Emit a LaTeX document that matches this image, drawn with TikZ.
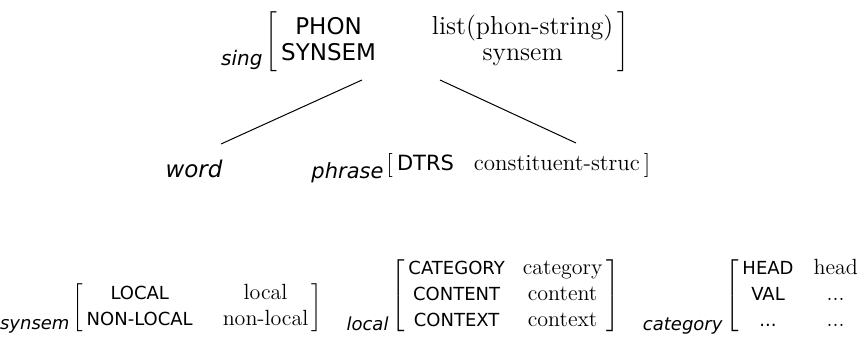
\documentclass[tikz,border=0pt]{standalone}
\usepackage{fontspec}
\newfontfamily\featfont{DejaVu Sans}
\usetikzlibrary{positioning,calc}

\newcommand{\avmsizes}[2]{\def\ftsz{#1}\def\vlsz{#2}\fontsize{#2}{13}\selectfont}
\newcommand{\ft}[1]{\mbox{\fontsize{\ftsz}{13}\selectfont\featfont #1}}
\newcommand{\vl}[1]{\mbox{\fontsize{\vlsz}{13}\selectfont\rmfamily #1}}
\newcommand{\avmbox}[2]{$\left[\begin{array}{@{\,}c@{\hspace{#1}}c@{\,}}#2\end{array}\right]$}

\begin{document}
\begin{tikzpicture}[x=0.5pt,y=-0.5pt,
avm/.style={inner sep=0pt},
sortlab/.style={inner sep=0pt,anchor=base east,font=\featfont\itshape\fontsize{#1}{13}\selectfont},
every path/.style={line width=0.5pt}]
\useasboundingbox (0,0) rectangle (859,340);

% type hierarchy
\node[avm,anchor=north west,font=\avmsizes{11.5}{13}] (singavm) at (265,11)
  {\avmbox{28pt}{\ft{PHON} & \vl{list(phon-string)}\\ \ft{SYNSEM} & \vl{synsem}}};
\node[sortlab=10] (sing) at ([xshift=-1pt,yshift=3pt]singavm.south west) {sing};

\node[sortlab=11.5,anchor=base] (word) at (194,178) {word};
\node[avm,anchor=south west,font=\avmsizes{10.5}{11.5}] (phraseavm) at (386,179)
  {\avmbox{10pt}{\ft{DTRS} & \vl{constituent-struc}}};
\node[sortlab=10.5] (phrase) at ([xshift=-1pt]phraseavm.south west) {phrase};

\draw ($(singavm.south west)+(97,8)$) -- ($(word.north east)+(-2,-16)$);
\draw ($(singavm.south west)+(175,8)$) -- ($(phraseavm.north west)+(190,-9)$);

% synsem, local, category
\node[avm,anchor=south west,font=\avmsizes{9}{11}] (synsemavm) at (72,334)
  {\avmbox{15pt}{\ft{LOCAL} & \vl{local}\\ \ft{NON-LOCAL} & \vl{non-local}}};
\node[sortlab=9] (synsem) at ([xshift=-1pt,yshift=2pt]synsemavm.south west) {synsem};

\node[avm,anchor=south west,font=\avmsizes{9}{11}] (localavm) at (391,335)
  {\avmbox{9pt}{\ft{CATEGORY} & \vl{category}\\ \ft{CONTENT} & \vl{content}\\ \ft{CONTEXT} & \vl{context}}};
\node[sortlab=9] (local) at ([xshift=-1pt,yshift=2pt]localavm.south west) {local};

\node[avm,anchor=south west,font=\avmsizes{9}{11}] (catavm) at (725,335)
  {\avmbox{10pt}{\ft{HEAD} & \vl{head}\\ \ft{VAL} & \vl{...}\\ \ft{...} & \vl{...}}};
\node[sortlab=9] (category) at ([xshift=-1pt,yshift=2pt]catavm.south west) {category};
\end{tikzpicture}
\end{document}
